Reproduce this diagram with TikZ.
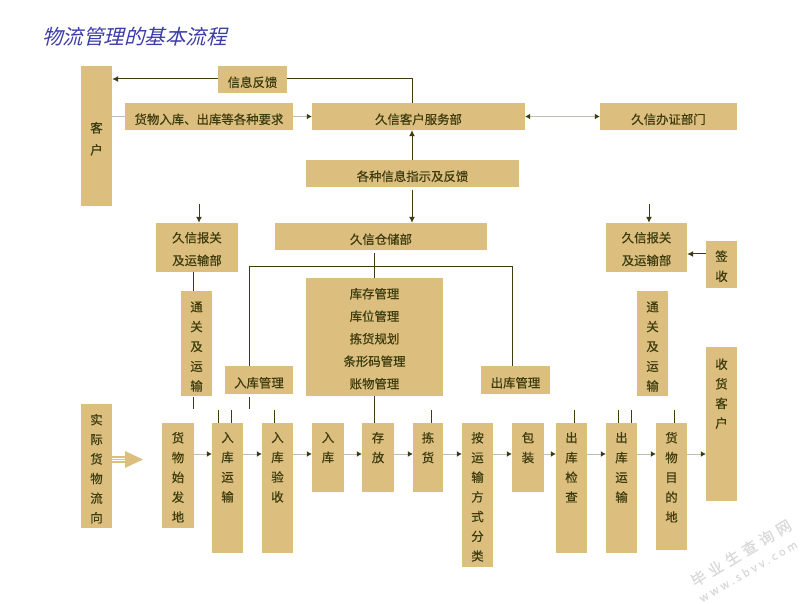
\documentclass[tikz,border=0pt]{standalone}
\usepackage{fontspec}
\setmainfont[FakeBold=0.5]{Noto Sans CJK SC}
\newfontfamily\titlefont[FakeSlant=0.25]{Noto Sans CJK SC}
\newfontfamily\markfont[FakeBold=0.5,LetterSpace=28]{Noto Sans CJK SC}
\newfontfamily\markcnfont[FakeBold=0.5,LetterSpace=32]{Noto Sans CJK SC}
\usetikzlibrary{arrows.meta}
\definecolor{boxtan}{HTML}{DCBE7F}
\definecolor{inkdark}{HTML}{3D3C0F}
\definecolor{titleblue}{HTML}{3C3CA8}
\definecolor{flowgray}{HTML}{BDBDB5}
\definecolor{markgray}{HTML}{D8D8D8}
\newcommand{\stacktext}[5]{\parbox[c][#2pt][t]{#1pt}{\centering\setlength{\baselineskip}{#5pt}\vspace*{#3pt}#4\par}}
\tikzset{
  tanbox/.style={fill=boxtan, text=inkdark, inner sep=0pt, font=\fontsize{12.4}{14}\selectfont},
  barebox/.style={tanbox, text height=15pt, text depth=0pt},
  darkline/.style={draw=inkdark, line width=1pt},
  darkarrow/.style={darkline, -{Latex[length=6pt,width=6pt]}},
  grayarrow/.style={draw=flowgray, line width=1pt, -{Latex[length=5pt,width=6pt,color=inkdark]}},
  grayboth/.style={draw=flowgray, line width=1pt, {Latex[length=5pt,width=6pt,color=inkdark]}-{Latex[length=5pt,width=6pt,color=inkdark]}}
}
\begin{document}
\begin{tikzpicture}[x=1pt,y=-1pt]
\useasboundingbox (0,0) rectangle (809,604);
\node [font=\titlefont\fontsize{20.5}{24}\selectfont, text=titleblue, inner sep=0pt] (title) at (134.5,36.5) {物流管理的基本流程};

% upper part
\node [tanbox, minimum width=31pt, minimum height=140pt] (kehu) at (96.5,136) {\stacktext{16}{140}{56}{客\\户}{22}};
\node [barebox, minimum width=69pt, minimum height=27pt] (fankui) at (252.5,79.5) {信息反馈};
\node [barebox, minimum width=168pt, minimum height=27pt] (yaoqiu) at (209,116.5) {货物入库、出库等各种要求};
\node [barebox, minimum width=213pt, minimum height=27pt] (fuwu) at (418.5,116.5) {久信客户服务部};
\node [barebox, minimum width=137pt, minimum height=27pt] (banzheng) at (668.5,116.5) {久信办证部门};
\node [barebox, minimum width=213pt, minimum height=27pt] (zhishi) at (412.5,173.5) {各种信息指示及反馈};
\node [barebox, minimum width=212pt, minimum height=27pt] (cangchu) at (381,236.5) {久信仓储部};
\node [tanbox, minimum width=82pt, minimum height=49pt] (baoguanL) at (197,247.5) {\stacktext{82}{49}{9}{久信报关\\及运输部}{22.7}};
\node [tanbox, minimum width=81pt, minimum height=49pt] (baoguanR) at (646.5,247.5) {\stacktext{81}{49}{9}{久信报关\\及运输部}{22.7}};
\node [tanbox, minimum width=31pt, minimum height=47pt] (qianshou) at (721.5,264.5) {\stacktext{16}{47}{9.5}{签\\收}{20}};
\node [tanbox, minimum width=137pt, minimum height=118pt] (guanli) at (374.5,337) {\stacktext{137}{118}{10}{库存管理\\库位管理\\拣货规划\\条形码管理\\账物管理}{22.5}};
\node [tanbox, minimum width=31pt, minimum height=105pt] (tongguanL) at (196.5,343.5) {\stacktext{16}{105}{10.5}{通\\关\\及\\运\\输}{19.8}};
\node [tanbox, minimum width=31pt, minimum height=105pt] (tongguanR) at (652.5,343.5) {\stacktext{16}{105}{10.5}{通\\关\\及\\运\\输}{19.8}};
\node [barebox, minimum width=68pt, minimum height=28pt] (rukuguan) at (259,380) {入库管理};
\node [barebox, minimum width=69pt, minimum height=28pt] (chukuguan) at (515.5,380) {出库管理};

% bottom row
\node [tanbox, minimum width=31pt, minimum height=124pt] (liuxiang) at (96.5,466) {\stacktext{16}{124}{10}{实\\际\\货\\物\\流\\向}{19.6}};
\node [tanbox, minimum width=32pt, minimum height=105pt] (shifa) at (178,475.5) {\stacktext{16}{105}{9}{货\\物\\始\\发\\地}{19.8}};
\node [tanbox, minimum width=31pt, minimum height=130pt] (ruyun) at (227.5,488) {\stacktext{16}{130}{9}{入\\库\\运\\输}{19.8}};
\node [tanbox, minimum width=31pt, minimum height=130pt] (yanshou) at (277.5,488) {\stacktext{16}{130}{9}{入\\库\\验\\收}{19.8}};
\node [tanbox, minimum width=32pt, minimum height=69pt] (ruku) at (328,457.5) {\stacktext{16}{69}{9}{入\\库}{19.8}};
\node [tanbox, minimum width=32pt, minimum height=69pt] (cunfang) at (378,457.5) {\stacktext{16}{69}{9}{存\\放}{19.8}};
\node [tanbox, minimum width=30pt, minimum height=69pt] (jianhuo) at (428,457.5) {\stacktext{16}{69}{9}{拣\\货}{19.8}};
\node [tanbox, minimum width=31pt, minimum height=144pt] (fenlei) at (477.5,495) {\stacktext{16}{144}{9}{按\\运\\输\\方\\式\\分\\类}{19.7}};
\node [tanbox, minimum width=32pt, minimum height=69pt] (baozhuang) at (528,457.5) {\stacktext{16}{69}{9}{包\\装}{19.8}};
\node [tanbox, minimum width=31pt, minimum height=130pt] (jiancha) at (571.5,488) {\stacktext{16}{130}{9}{出\\库\\检\\查}{19.8}};
\node [tanbox, minimum width=31pt, minimum height=130pt] (chuyun) at (621.5,488) {\stacktext{16}{130}{9}{出\\库\\运\\输}{19.8}};
\node [tanbox, minimum width=31pt, minimum height=127pt] (mudi) at (671.5,486.5) {\stacktext{16}{127}{9}{货\\物\\目\\的\\地}{19.8}};
\node [tanbox, minimum width=31pt, minimum height=154pt] (shouhuo) at (721.5,424) {\stacktext{16}{154}{11.5}{收\\货\\客\\户}{19.6}};

% wide arrow
\draw [boxtan, line width=1.1pt] (liuxiang.east |- 0,457) -- (125,457);
\draw [boxtan, line width=1.1pt] (liuxiang.east |- 0,459.5) -- (125,459.5);
\draw [boxtan, line width=1.1pt] (liuxiang.east |- 0,462) -- (125,462);
\fill [boxtan] (125,451) -- (143,459.5) -- (125,468) -- cycle;

% named free ends
\coordinate (flow) at (0,454);
\coordinate (fanY) at (0,79);
\coordinate (midY) at (0,116.5);
\coordinate (topL) at (199,204);
\coordinate (topR) at (649,204);
\coordinate (zhishiOut) at (412,190);
\coordinate (cangOut) at (374,253);
\coordinate (tickTop) at (0,410);
\coordinate (tickMid) at (0,397);
\coordinate (tickEnd) at (0,409);

% connectors above
\draw [darkarrow] (fankui.west |- fanY) -- (kehu.east |- fanY);
\draw [darkline] (fankui.east |- fanY) -- (412,79) -- (fuwu.north -| 412,0);
\draw [flowgray, line width=1pt] (kehu.east |- midY) -- (yaoqiu.west |- midY);
\draw [grayarrow] (yaoqiu.east |- midY) -- (fuwu.west |- midY);
\draw [grayboth] (fuwu.east |- midY) -- (banzheng.west |- midY);
\draw [darkarrow] (zhishi.north -| 412,0) -- (fuwu.south -| 412,0);
\draw [darkarrow] (zhishiOut) -- (cangchu.north -| zhishiOut);
\draw [darkarrow] (topL) -- (baoguanL.north -| topL);
\draw [darkarrow] (topR) -- (baoguanR.north -| topR);
\draw [darkarrow] (qianshou.west |- 0,254) -- (baoguanR.east |- 0,254);
\draw [darkline] (baoguanL.south -| 193.5,0) -- (tongguanL.north -| 193.5,0);
\draw [darkline] (cangOut) -- (guanli.north -| cangOut);
\draw [darkline] (rukuguan.north -| 249,0) -- (249,266.5) -- (512,266.5) -- (chukuguan.north -| 512,0);

% ticks
\draw [darkline] (193,0 |- tickMid) -- (193,0 |- tickEnd);
\draw [darkline] (249,0 |- tickMid) -- (249,0 |- tickEnd);
\draw [darkline] (218,0 |- tickTop) -- (ruyun.north -| 218,0);
\draw [darkline] (231,0 |- tickTop) -- (ruyun.north -| 231,0);
\draw [darkline] (274,0 |- tickTop) -- (yanshou.north -| 274,0);
\draw [darkline] (guanli.south -| 374,0) -- (cunfang.north -| 374,0);
\draw [darkline] (431,0 |- tickTop) -- (jianhuo.north -| 431,0);
\draw [darkline] (574,0 |- tickTop) -- (jiancha.north -| 574,0);
\draw [darkline] (618,0 |- tickTop) -- (chuyun.north -| 618,0);
\draw [darkline] (631,0 |- tickTop) -- (chuyun.north -| 631,0);
\draw [darkline] (674,0 |- tickTop) -- (mudi.north -| 674,0);

% flow arrows
\draw [grayarrow] (shifa.east |- flow) -- (ruyun.west |- flow);
\draw [grayarrow] (ruyun.east |- flow) -- (yanshou.west |- flow);
\draw [grayarrow] (yanshou.east |- flow) -- (ruku.west |- flow);
\draw [grayarrow] (ruku.east |- flow) -- (cunfang.west |- flow);
\draw [grayarrow] (cunfang.east |- flow) -- (jianhuo.west |- flow);
\draw [grayarrow] (jianhuo.east |- flow) -- (fenlei.west |- flow);
\draw [grayarrow] (fenlei.east |- flow) -- (baozhuang.west |- flow);
\draw [grayarrow] (baozhuang.east |- flow) -- (jiancha.west |- flow);
\draw [grayarrow] (jiancha.east |- flow) -- (chuyun.west |- flow);
\draw [grayarrow] (chuyun.east |- flow) -- (mudi.west |- flow);
\draw [grayarrow] (mudi.east |- flow) -- (shouhuo.west |- flow);

% watermark
\node [rotate=31, text=markgray, font=\markcnfont\fontsize{15}{18}\selectfont, inner sep=0pt] (markcn) at (741,553) {毕业生查询网};
\node [rotate=30, text=markgray, font=\markfont\fontsize{11}{12}\selectfont, inner sep=0pt] (markweb) at (748,571) {www.sbvv.com};
\end{tikzpicture}
\end{document}
